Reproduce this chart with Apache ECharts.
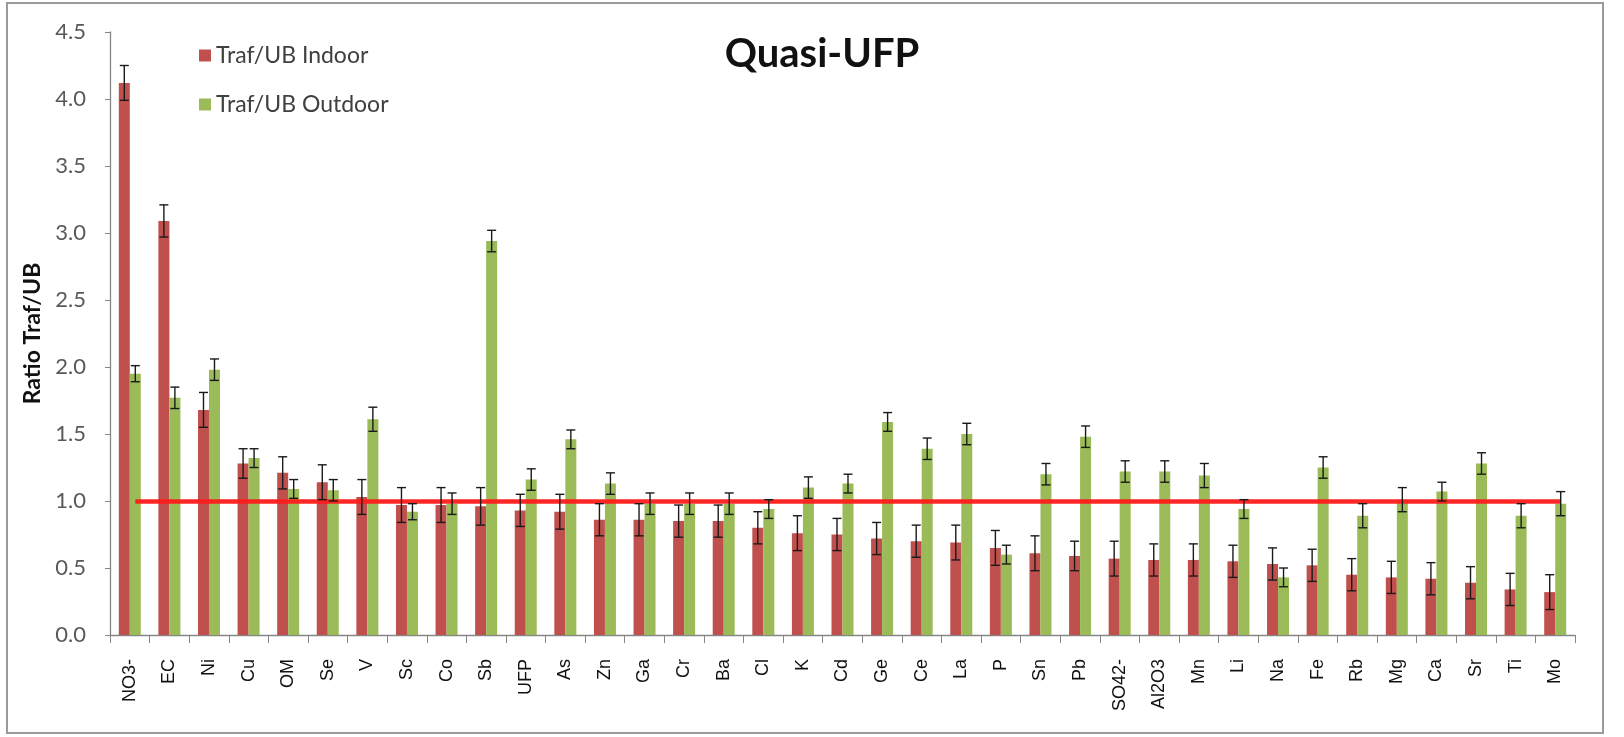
<!DOCTYPE html>
<html>
<head>
<meta charset="utf-8">
<title>Quasi-UFP</title>
<script src="https://cdn.jsdelivr.net/npm/echarts@6/dist/echarts.min.js"></script>
<style>
  html, body { margin: 0; padding: 0; background: #fff; }
  #chart { width: 1624px; height: 737px; }
</style>
</head>
<body>
<div id="chart"></div>
<script>
// species, ordered as in the figure
const species = ['NO3-', 'EC', 'Ni', 'Cu', 'OM', 'Se', 'V', 'Sc', 'Co', 'Sb', 'UFP', 'As', 'Zn', 'Ga', 'Cr', 'Ba', 'Cl', 'K', 'Cd', 'Ge', 'Ce', 'La', 'P', 'Sn', 'Pb', 'SO42-', 'Al2O3', 'Mn', 'Li', 'Na', 'Fe', 'Rb', 'Mg', 'Ca', 'Sr', 'Ti', 'Mo'];

// Traf/UB Indoor
const indoor = [4.12, 3.09, 1.68, 1.28, 1.21, 1.14, 1.03, 0.97, 0.97, 0.96, 0.93, 0.92, 0.86, 0.86, 0.85, 0.85, 0.80, 0.76, 0.75, 0.72, 0.70, 0.69, 0.65, 0.61, 0.59, 0.57, 0.56, 0.56, 0.55, 0.53, 0.52, 0.45, 0.43, 0.42, 0.39, 0.34, 0.32];
const indoorErr = [0.13, 0.12, 0.13, 0.11, 0.12, 0.13, 0.13, 0.13, 0.13, 0.14, 0.12, 0.13, 0.12, 0.12, 0.12, 0.12, 0.12, 0.13, 0.12, 0.12, 0.12, 0.13, 0.13, 0.13, 0.11, 0.13, 0.12, 0.12, 0.12, 0.12, 0.12, 0.12, 0.12, 0.12, 0.12, 0.12, 0.13];

// Traf/UB Outdoor
const outdoor = [1.95, 1.77, 1.98, 1.32, 1.09, 1.08, 1.61, 0.92, 0.98, 2.94, 1.16, 1.46, 1.13, 0.98, 0.98, 0.98, 0.94, 1.10, 1.13, 1.59, 1.39, 1.50, 0.60, 1.20, 1.48, 1.22, 1.22, 1.19, 0.94, 0.43, 1.25, 0.89, 1.01, 1.07, 1.28, 0.89, 0.98];
const outdoorErr = [0.06, 0.08, 0.08, 0.07, 0.07, 0.08, 0.09, 0.06, 0.08, 0.08, 0.08, 0.07, 0.08, 0.08, 0.08, 0.08, 0.07, 0.08, 0.07, 0.07, 0.08, 0.08, 0.07, 0.08, 0.08, 0.08, 0.08, 0.09, 0.07, 0.07, 0.08, 0.09, 0.09, 0.07, 0.08, 0.09, 0.09];

const refLevel = 1.0;

const BAR_W = 11;

// error bar drawn as I-beam around the bar top; offset puts it over its bar
function errorBar(offset) {
  return function (params, api) {
    const i = api.value(0);
    const top = api.coord([i, api.value(1) + api.value(2)]);
    const bot = api.coord([i, api.value(1) - api.value(2)]);
    const x = top[0] + offset;
    const cap = 4.5;
    const style = { stroke: '#1a1a1a', lineWidth: 1.4 };
    return {
      type: 'group',
      children: [
        { type: 'line', shape: { x1: x, y1: top[1], x2: x, y2: bot[1] }, style: style },
        { type: 'line', shape: { x1: x - cap, y1: top[1], x2: x + cap, y2: top[1] }, style: style },
        { type: 'line', shape: { x1: x - cap, y1: bot[1], x2: x + cap, y2: bot[1] }, style: style }
      ]
    };
  };
}

const chart = echarts.init(document.getElementById('chart'));

chart.setOption({
  animation: false,
  backgroundColor: '#fff',
  title: {
    text: 'Quasi-UFP',
    left: 817,
    top: 29,
    textAlign: 'center',
    textStyle: { fontFamily: 'Lato', fontWeight: 'bold', fontSize: 40, color: '#111' }
  },
  legend: {
    data: ['Traf/UB Indoor', 'Traf/UB Outdoor'],
    orient: 'vertical',
    left: 194,
    top: 39,
    itemWidth: 12,
    itemHeight: 12,
    itemGap: 26,
    icon: 'rect',
    textStyle: { fontFamily: 'Lato', fontSize: 23, color: '#404040' }
  },
  graphic: [{
    type: 'rect',
    shape: { x: 7, y: 3, width: 1596, height: 730 },
    style: { fill: 'none', stroke: '#9a9a9a', lineWidth: 2 },
    silent: true
  }],
  grid: { left: 110, right: 49, top: 32, bottom: 102 },
  xAxis: {
    type: 'category',
    data: species,
    axisLine: { lineStyle: { color: '#868686', width: 1.3 } },
    axisTick: { show: true, length: 8, lineStyle: { color: '#868686' } },
    axisLabel: {
      interval: 0,
      rotate: 90,
      margin: 24,
      fontFamily: 'Liberation Sans',
      fontSize: 18,
      color: '#111'
    }
  },
  yAxis: {
    type: 'value',
    min: 0,
    max: 4.5,
    interval: 0.5,
    name: 'Ratio Traf/UB',
    nameLocation: 'middle',
    nameGap: 66,
    nameTextStyle: { fontFamily: 'Lato', fontWeight: 'bold', fontSize: 23, color: '#111' },
    axisLine: { show: true, lineStyle: { color: '#868686', width: 1.3 } },
    axisTick: { show: true, length: 5, lineStyle: { color: '#868686' } },
    splitLine: { show: false },
    axisLabel: {
      margin: 24,
      fontFamily: 'Lato',
      fontSize: 22,
      color: '#595959',
      formatter: function (v) { return v.toFixed(1); }
    }
  },
  series: [
    {
      name: 'Traf/UB Indoor',
      type: 'bar',
      data: indoor,
      barWidth: BAR_W,
      barGap: '0%',
      itemStyle: { color: '#c0504d' },
      z: 2
    },
    {
      name: 'Traf/UB Outdoor',
      type: 'bar',
      data: outdoor,
      barWidth: BAR_W,
      barGap: '0%',
      itemStyle: { color: '#9bbb59' },
      z: 2,
      markLine: {
        silent: true,
        symbol: 'none',
        label: { show: false },
        lineStyle: { color: '#ff1a1a', width: 4.5, type: 'solid', opacity: 0.95 },
        data: [[
          { coord: [species[0], refLevel] },
          { coord: [species[species.length - 1], refLevel] }
        ]],
        z: 5
      }
    },
    {
      name: 'indoorErr',
      type: 'custom',
      renderItem: errorBar(-BAR_W / 2),
      data: indoor.map(function (v, i) { return [i, v, indoorErr[i]]; }),
      encode: { x: 0, y: 1 },
      z: 6
    },
    {
      name: 'outdoorErr',
      type: 'custom',
      renderItem: errorBar(BAR_W / 2),
      data: outdoor.map(function (v, i) { return [i, v, outdoorErr[i]]; }),
      encode: { x: 0, y: 1 },
      z: 6
    }
  ]
});
</script>
</body>
</html>
